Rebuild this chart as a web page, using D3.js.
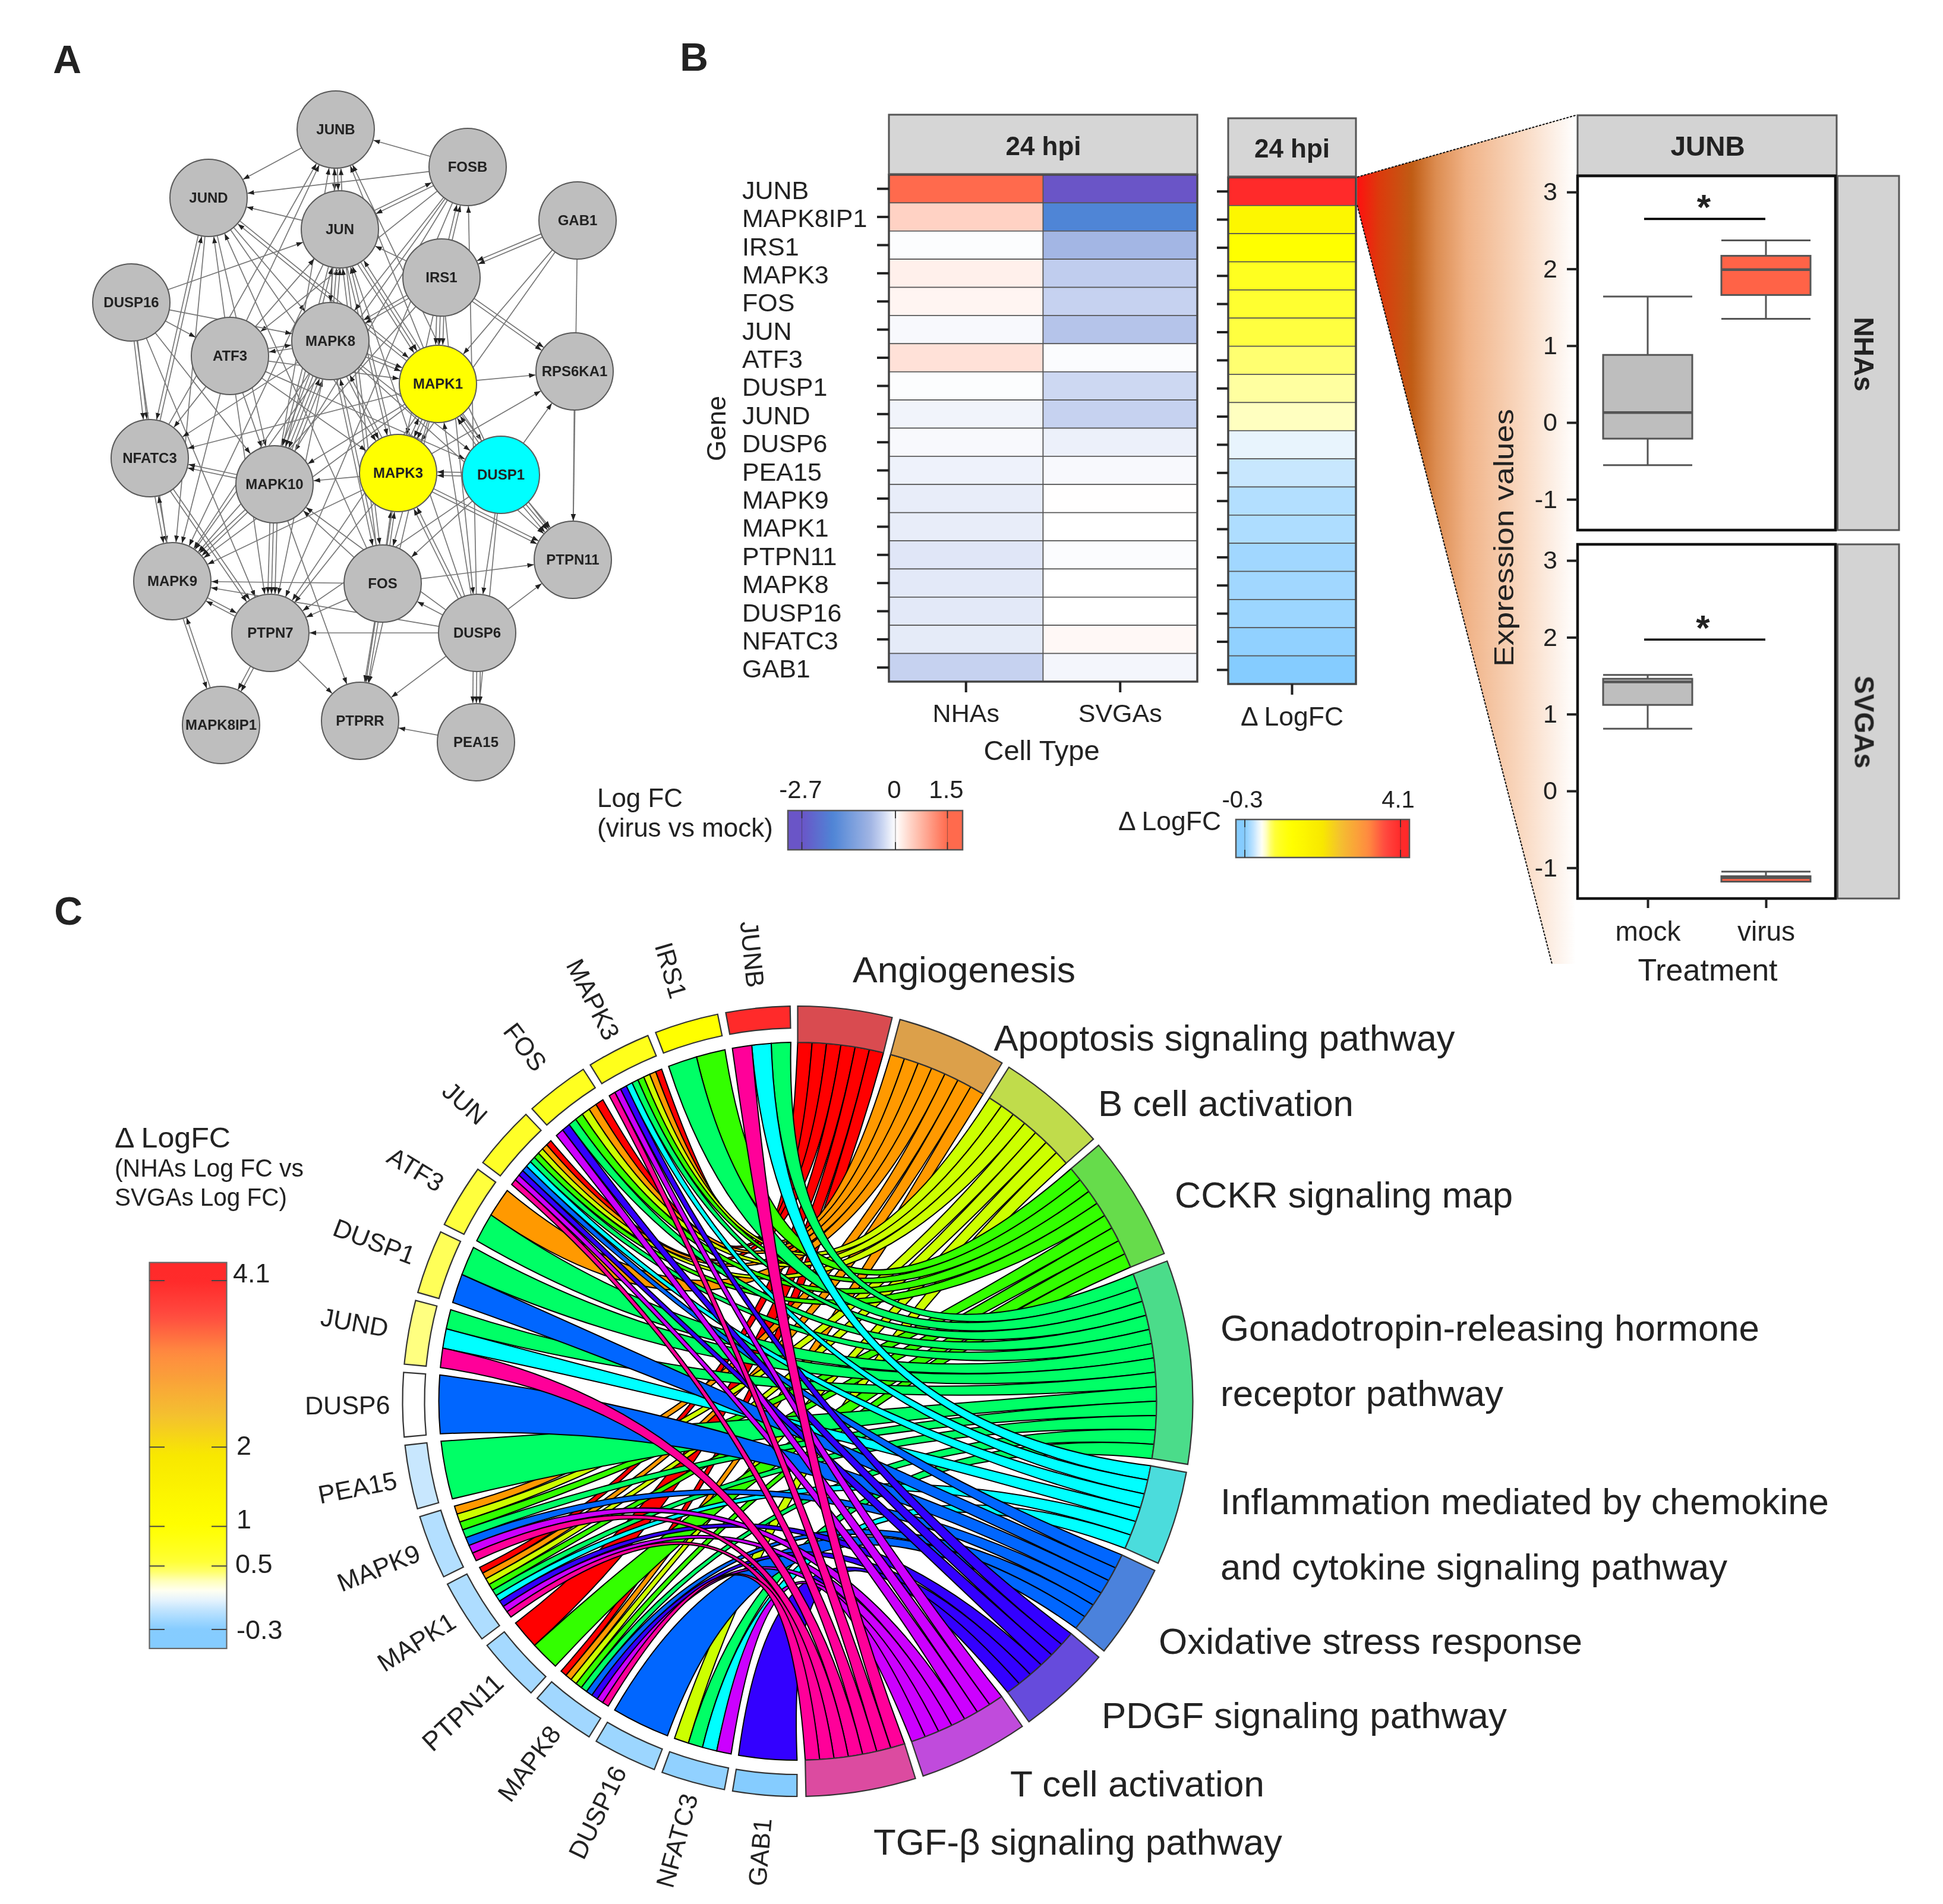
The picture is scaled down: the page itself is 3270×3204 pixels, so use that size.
<!DOCTYPE html>
<html><head><meta charset="utf-8"><title>Figure</title>
<script src="https://cdn.jsdelivr.net/npm/d3@7/dist/d3.min.js"></script>
<style>html,body{margin:0;padding:0;background:#fff}svg{display:block;filter:blur(.7px)}text{font-family:"Liberation Sans",Arial,sans-serif;fill:#222}</style>
</head><body><svg id="fig" width="3270" height="3204"></svg>
<script>
// ---------- Panel A data ----------
const netNames=["JUNB","FOSB","JUND","JUN","GAB1","IRS1","DUSP16","ATF3","MAPK8","RPS6KA1","MAPK1","NFATC3","MAPK10","MAPK3","DUSP1","PTPN11","MAPK9","FOS","PTPN7","DUSP6","PTPRR","MAPK8IP1","PEA15"];
const netLayoutX=[56.5,78.7,35.1,57.2,97.2,74.3,22.1,38.7,55.6,96.7,73.7,25.2,46.2,67,84.3,96.4,29,64.4,45.5,80.3,60.6,37.2,80.1];
const netLayoutY=[21.8,28.1,33.3,38.6,37.1,46.7,50.9,59.9,57.4,62.5,64.6,77.1,81.5,79.6,79.9,94.2,97.8,98.2,106.5,106.5,121.3,122,124.9];
const netHighlight={MAPK1:"#ffff00",MAPK3:"#ffff00",DUSP1:"#00ffff"};
const netEdges=[["FOSB","JUNB"],["FOSB","JUND"],["JUNB","JUND"],["JUN","JUND"],["FOSB","JUN"],["JUN","FOSB"],["JUNB","JUN"],["JUNB","JUN"],["JUN","JUNB"],
["ATF3","JUNB"],["MAPK10","JUNB"],["MAPK8","JUNB"],["MAPK1","JUNB"],["DUSP1","JUNB"],["NFATC3","JUNB"],["ATF3","JUND"],["NFATC3","JUND"],["JUND","NFATC3"],["JUND","MAPK9"],["JUND","MAPK10"],["JUND","MAPK8"],["JUND","MAPK1"],["JUND","MAPK3"],["FOS","JUND"],["MAPK1","JUND"],
["MAPK8","JUN"],["MAPK8","JUN"],["JUN","MAPK8"],["ATF3","JUN"],["MAPK10","JUN"],["FOS","JUN"],["MAPK3","JUN"],["MAPK1","JUN"],["JUN","MAPK1"],["JUN","MAPK1"],["JUN","MAPK3"],["JUN","MAPK10"],["JUN","MAPK9"],["JUN","FOS"],
["FOSB","MAPK8"],["FOSB","MAPK10"],["FOSB","ATF3"],["FOSB","PTPN7"],["IRS1","FOSB"],["IRS1","FOSB"],["DUSP6","FOSB"],["FOSB","MAPK9"],
["DUSP16","JUN"],["DUSP16","ATF3"],["DUSP16","MAPK8"],["DUSP16","NFATC3"],["DUSP16","NFATC3"],["DUSP16","MAPK9"],["DUSP16","PTPN7"],["DUSP16","MAPK10"],
["GAB1","IRS1"],["GAB1","IRS1"],["GAB1","PTPN11"],["GAB1","MAPK1"],["GAB1","MAPK3"],["IRS1","RPS6KA1"],["IRS1","RPS6KA1"],["IRS1","MAPK1"],["IRS1","MAPK1"],["IRS1","MAPK1"],["IRS1","JUN"],["IRS1","MAPK8"],["IRS1","MAPK8"],["IRS1","MAPK3"],["IRS1","DUSP6"],["IRS1","MAPK9"],
["ATF3","MAPK8"],["MAPK8","ATF3"],["ATF3","NFATC3"],["ATF3","MAPK9"],["ATF3","MAPK10"],["ATF3","PTPN7"],["ATF3","MAPK3"],["ATF3","MAPK1"],["ATF3","DUSP1"],
["MAPK8","MAPK1"],["MAPK8","MAPK1"],["MAPK8","MAPK3"],["MAPK8","DUSP1"],["MAPK8","MAPK10"],["MAPK8","MAPK10"],["MAPK8","MAPK10"],["MAPK10","MAPK8"],["MAPK10","MAPK8"],["MAPK8","MAPK9"],["MAPK8","NFATC3"],["MAPK8","PTPN7"],["MAPK8","FOS"],["FOS","MAPK8"],["MAPK3","MAPK8"],["MAPK8","PTPN11"],
["MAPK1","RPS6KA1"],["MAPK1","MAPK3"],["MAPK1","MAPK3"],["MAPK3","MAPK1"],["DUSP1","MAPK1"],["DUSP1","MAPK1"],["MAPK1","MAPK10"],["MAPK1","MAPK9"],["MAPK1","NFATC3"],["MAPK1","FOS"],["MAPK1","PTPN7"],["MAPK1","PTPN11"],["MAPK1","DUSP1"],["MAPK1","PTPRR"],
["DUSP1","MAPK3"],["DUSP1","MAPK3"],["DUSP1","PTPN11"],["DUSP1","PTPN11"],["DUSP1","PTPN11"],["DUSP1","RPS6KA1"],["DUSP1","DUSP6"],["DUSP1","FOS"],["DUSP1","PTPN7"],["DUSP1","PEA15"],
["MAPK3","RPS6KA1"],["MAPK3","MAPK10"],["MAPK3","PTPN11"],["MAPK3","PTPN11"],["MAPK3","MAPK9"],["MAPK3","PTPN7"],["FOS","MAPK3"],["FOS","MAPK3"],["DUSP6","MAPK3"],["DUSP6","MAPK3"],["MAPK3","PTPRR"],
["MAPK10","NFATC3"],["MAPK10","NFATC3"],["MAPK10","MAPK9"],["MAPK10","MAPK9"],["MAPK10","PTPN7"],["MAPK10","PTPN7"],["MAPK10","PTPN7"],["MAPK10","PTPRR"],["FOS","MAPK10"],["DUSP6","MAPK10"],
["NFATC3","MAPK9"],["MAPK9","NFATC3"],["NFATC3","PTPN7"],["NFATC3","PTPN7"],["MAPK9","PTPN7"],["PTPN7","MAPK9"],["MAPK9","MAPK8IP1"],["MAPK8IP1","MAPK9"],
["FOS","MAPK9"],["FOS","PTPN7"],["DUSP6","FOS"],["DUSP6","PTPN7"],["DUSP6","PTPRR"],["DUSP6","PTPN11"],["DUSP6","PEA15"],["DUSP6","PEA15"],["DUSP6","PEA15"],["DUSP6","MAPK9"],["DUSP6","JUN"],["DUSP6","MAPK1"],["FOS","PTPN11"],["FOS","PTPRR"],["FOS","PTPRR"],["PTPN7","PTPRR"],["PTPN7","MAPK8IP1"],["PTPN7","MAPK8IP1"],["PEA15","PTPRR"],["RPS6KA1","PTPN11"]];

// ---------- Panel B data ----------
const heatGenes=["JUNB","MAPK8IP1","IRS1","MAPK3","FOS","JUN","ATF3","DUSP1","JUND","DUSP6","PEA15","MAPK9","MAPK1","PTPN11","MAPK8","DUSP16","NFATC3","GAB1"];
const cellTypes=["NHAs","SVGAs"];
const logFcNHAs=[1.5,0.45,-0.02,0.15,0.1,-0.05,0.3,-0.02,-0.1,-0.05,-0.12,-0.16,-0.16,-0.22,-0.2,-0.2,-0.18,-0.4];
const logFcSVGAs=[-2.7,-1.8,-0.7,-0.45,-0.4,-0.55,-0.03,-0.35,-0.4,-0.13,-0.05,0.01,0,-0.03,0,0,0.07,-0.08];
const deltaLogFc=[4.1,1.3,1.0,0.7,0.6,0.5,0.42,0.36,0.3,0.08,-0.03,-0.1,-0.12,-0.18,-0.18,-0.2,-0.25,-0.3];
const logFcStops=[-2.7,-1.8,-0.7,-0.4,0,0.45,1.5];
const logFcColors=["#6a55c7","#4f85d6","#a3b6e4","#c6d2f0","#ffffff","#ffd2c4","#ff6a4d"];
const deltaStops=[-0.3,-0.1,0.08,0.16,0.3,0.36,0.42,0.5,0.7,1.0,1.9,2.4,3.2,3.66,4.1];
const deltaColors=["#85ccff","#b3dfff","#e8f4fd","#ffffff","#ffffc0","#ffffa0","#ffff70","#ffff40","#ffff20","#ffff00","#f8e800","#f4c030","#ff8a40","#ff4a40","#ff2a2a"];
const logFcTicks=[-2.7,0,1.5];
const deltaTicksSmall=[-0.3,4.1];
const deltaTicksBig=[4.1,2,1,0.5,-0.3];

// Boxplot statistics: [low whisker, Q1, median, Q3, high whisker]
const treatments=["mock","virus"];
const boxNHAs=[[-0.555,-0.21,0.13,0.88,1.64],[1.35,1.66,1.99,2.17,2.37]];
const boxSVGAs=[[0.81,1.12,1.42,1.46,1.51],[-1.18,-1.18,-1.13,-1.11,-1.05]];
const boxColors=["#bebebe","#ff6347"];
const exprTicks=[-1,0,1,2,3];
const sigLevels=[2.65,1.97];

// ---------- Panel C data ----------
const chordGenes=["JUNB","IRS1","MAPK3","FOS","JUN","ATF3","DUSP1","JUND","DUSP6","PEA15","MAPK9","MAPK1","PTPN11","MAPK8","DUSP16","NFATC3","GAB1"];
const chordDelta=[4.1,1.0,0.75,0.7,0.65,0.52,0.46,0.4,0.16,-0.03,-0.1,-0.12,-0.16,-0.18,-0.2,-0.25,-0.3];
const termColors=["#FF0000","#FF9900","#CCFF00","#33FF00","#00FF66","#00FFFF","#0066FF","#3300FF","#CC00FF","#FF0099"];
const termRingColors=["#d94b50","#dca04a","#c0dc4b","#66dc4b","#4bdc8a","#4bdcdc","#4b82dc","#664bdc","#c04bdc","#dc4ba0"];
const geneTerms=[[4,5,9],[3,4],[0,1,2,3,4,5,7,8,9],[0,1,2,3,4,7,8],[0,1,2,3,4,5,6,7,8,9],[1,4],[4,6],[4,5,9],[6],[4],[1,2,3,4,6,8,9],[0,1,2,3,4,5,7,8,9],[0,3],[0,1,2,3,4,6,7,8,9],[6],[2,4,5,8],[7]];
const termLabels=[["Angiogenesis"],["Apoptosis signaling pathway"],["B cell activation"],["CCKR signaling map"],["Gonadotropin-releasing hormone","receptor pathway"],["Inflammation mediated by chemokine","and cytokine signaling pathway"],["Oxidative stress response"],["PDGF signaling pathway"],["T cell activation"],["TGF-β signaling pathway"]];

// ---------- helpers ----------
const svg=d3.select("#fig");
function txt(g,x,y,s,o={}){
  const t=g.append("text").attr("x",x).attr("y",y).attr("dy",o.dy||".35em").attr("font-size",o.size||42)
    .attr("text-anchor",o.anchor||"middle").attr("font-weight",o.weight||"normal").text(s);
  if(o.rot!==undefined)t.attr("transform",`rotate(${o.rot} ${x} ${y})`);
  if(o.len)t.attr("textLength",o.len).attr("lengthAdjust","spacingAndGlyphs");
  return t;
}
const logFcColor=d3.scaleLinear().domain(logFcStops).range(logFcColors).clamp(true);
const deltaColor=d3.scaleLinear().domain(deltaStops).range(deltaColors).clamp(true);
const defs=svg.append("defs");
function gradient(id,stops,col,vert,lo,hi){
  const g=defs.append("linearGradient").attr("id",id).attr("x1",0).attr("y1",vert?1:0).attr("x2",vert?0:1).attr("y2",0);
  d3.range(0,41).forEach(i=>{const v=lo+(hi-lo)*i/40;g.append("stop").attr("offset",i/40).attr("stop-color",col(v));});
}
function styleAxis(g){g.select(".domain").remove();g.selectAll(".tick line").attr("stroke","#222").attr("stroke-width",4);}

// panel letters
[["A",113,100],["B",1168,96],["C",115,1533]].forEach(d=>txt(svg,d[1],d[2],d[0],{size:66,weight:"bold"}));

// ---------- Panel A ----------
(function(){
  const g=svg.append("g");
  const sx=d3.scaleLinear().domain([0,100]).range([0,1000]),sy=d3.scaleLinear().domain([0,100]).range([0,1000]);
  const rNode=sx(6.5);
  const nodes=netNames.map((n,i)=>({n,x:sx(netLayoutX[i]),y:sy(netLayoutY[i])}));
  const byName=Object.fromEntries(nodes.map(d=>[d.n,d]));
  defs.append("marker").attr("id","arrow").attr("markerUnits","userSpaceOnUse").attr("markerWidth",12).attr("markerHeight",10)
    .attr("refX",11).attr("refY",4).attr("orient","auto").append("path").attr("d","M0,0L11,4L0,8Z").attr("fill","#222");
  const groups=d3.group(netEdges,e=>[e[0],e[1]].sort().join("|"));
  groups.forEach(list=>{
    list.forEach((e,i)=>{
      const a=byName[e[0]],b=byName[e[1]];
      const dx=b.x-a.x,dy=b.y-a.y,L=Math.hypot(dx,dy),ux=dx/L,uy=dy/L;
      const sign=e[0]<e[1]?1:-1;
      const off=(i-(list.length-1)/2)*6*sign;
      const px=-uy*off,py=ux*off;
      g.append("line").attr("x1",a.x+ux*rNode+px).attr("y1",a.y+uy*rNode+py)
       .attr("x2",b.x-ux*(rNode+1)+px).attr("y2",b.y-uy*(rNode+1)+py)
       .attr("stroke","#777").attr("stroke-width",1.7).attr("marker-end","url(#arrow)");
    });
  });
  g.selectAll("circle").data(nodes).join("circle").attr("cx",d=>d.x).attr("cy",d=>d.y).attr("r",rNode)
    .attr("fill",d=>netHighlight[d.n]||"#bebebe").attr("stroke","#5a5a5a").attr("stroke-width",2);
  nodes.forEach(d=>txt(g,d.x,d.y,d.n,{size:24,weight:"bold"}));
})();

// ---------- Wedge (behind panel) ----------
(function(){
  const wy=[298,345];
  const wedge=defs.append("linearGradient").attr("id","wedge").attr("gradientUnits","userSpaceOnUse").attr("x1",2284).attr("x2",2652).attr("y1",0).attr("y2",0);
  [[0,"#ff1010"],[.1,"#dc3a0c"],[.25,"#c05c14"],[.36,"#dc8c50"],[.5,"#f0b286"],[.75,"#f9d8c0"],[1,"#ffffff"]].forEach(s=>wedge.append("stop").attr("offset",s[0]).attr("stop-color",s[1]));
  svg.append("path").attr("d",d3.line()([[2284,wy[0]],[2652,194],[2652,1622],[2612,1622],[2284,wy[1]]])+"Z").attr("fill","url(#wedge)");
  svg.append("path").attr("d",d3.line()([[2284,wy[0]],[2652,194]])).attr("fill","none").attr("stroke","#111").attr("stroke-width",2).attr("stroke-dasharray","4,2");
  svg.append("path").attr("d",d3.line()([[2284,wy[1]],[2612,1622]])).attr("fill","none").attr("stroke","#111").attr("stroke-width",2).attr("stroke-dasharray","4,2");
})();

// ---------- Panel B heatmaps ----------
(function(){
  const g=svg.append("g");
  const x=d3.scaleBand().domain(cellTypes).range([1496,2015]);
  const y=d3.scaleBand().domain(heatGenes).range([294,1147]);
  const cells=[];heatGenes.forEach((n,i)=>{cells.push({g:n,c:"NHAs",v:logFcNHAs[i]});cells.push({g:n,c:"SVGAs",v:logFcSVGAs[i]});});
  g.selectAll(".c1").data(cells).join("rect").attr("x",d=>x(d.c)).attr("y",d=>y(d.g)).attr("width",x.bandwidth()).attr("height",y.bandwidth())
   .attr("fill",d=>logFcColor(d.v)).attr("stroke","#555").attr("stroke-width",1.6);
  g.append("rect").attr("x",1496).attr("y",294).attr("width",519).attr("height",853).attr("fill","none").attr("stroke","#444").attr("stroke-width",3.5);
  g.append("rect").attr("x",1496).attr("y",193).attr("width",519).attr("height",100).attr("fill","#d6d6d6").attr("stroke","#555").attr("stroke-width",3);
  txt(g,1756,246,"24 hpi",{size:44,weight:"bold"});
  const ax=g.append("g").attr("transform","translate(1496,0)").call(d3.axisLeft(y).tickSize(20).tickPadding(0));
  styleAxis(ax);
  ax.selectAll(".tick text").attr("font-size",43).attr("font-family",null).attr("text-anchor","start").attr("x",-247).attr("y",2).attr("dy",".35em").attr("fill","#222");
  const bx=g.append("g").attr("transform","translate(0,1147)").call(d3.axisBottom(x).tickSize(18).tickPadding(0));
  styleAxis(bx);
  bx.selectAll(".tick text").attr("font-size",43).attr("y",53).attr("dy",".35em");
  txt(g,1205,721,"Gene",{size:45,rot:-90});
  txt(g,1753,1263,"Cell Type",{size:47});

  const y2=d3.scaleBand().domain(heatGenes).range([298.5,1151]);
  const dcol=["Δ LogFC"];
  const x2=d3.scaleBand().domain(dcol).range([2067,2282]);
  g.selectAll(".c2").data(heatGenes).join("rect").attr("x",2067).attr("y",d=>y2(d)).attr("width",x2.bandwidth()).attr("height",y2.bandwidth())
   .attr("fill",(d,i)=>deltaColor(deltaLogFc[i])).attr("stroke","#555").attr("stroke-width",1.6);
  g.append("rect").attr("x",2067).attr("y",298.5).attr("width",215).attr("height",852.5).attr("fill","none").attr("stroke","#444").attr("stroke-width",3.5);
  g.append("rect").attr("x",2067).attr("y",199).attr("width",215).attr("height",98).attr("fill","#d6d6d6").attr("stroke","#555").attr("stroke-width",3);
  txt(g,2174.5,250,"24 hpi",{size:44,weight:"bold"});
  const ax2=g.append("g").attr("transform","translate(2067,0)").call(d3.axisLeft(y2).tickSize(19).tickFormat(""));
  styleAxis(ax2);
  const bx2=g.append("g").attr("transform","translate(0,1151)").call(d3.axisBottom(x2).tickSize(18).tickPadding(0));
  styleAxis(bx2);
  bx2.selectAll(".tick text").attr("font-size",44.5).attr("y",54).attr("dy",".35em");

  // legends
  const lx=d3.scaleLinear().domain([-2.7,1.5]).range([1349.5,1594.5]);
  const lo=lx.invert(1326),hi=lx.invert(1620);
  gradient("gLog",null,logFcColor,false,lo,hi);
  g.append("rect").attr("x",1326).attr("y",1364).attr("width",294).attr("height",66).attr("fill","url(#gLog)").attr("stroke","#555").attr("stroke-width",2.5);
  logFcTicks.forEach(v=>{g.append("line").attr("x1",lx(v)).attr("x2",lx(v)).attr("y1",1364).attr("y2",1430).attr("stroke","#333").attr("stroke-width",1.2).attr("stroke-opacity",.45);
    [[1364,1377],[1417,1430]].forEach(e=>g.append("line").attr("x1",lx(v)).attr("x2",lx(v)).attr("y1",e[0]).attr("y2",e[1]).attr("stroke","#333").attr("stroke-width",1.8));
    txt(g,lx(v)-2,1328,String(v),{size:42});});
  txt(g,1005,1343,"Log FC",{size:44,anchor:"start",len:144});
  txt(g,1005,1393,"(virus vs mock)",{size:44,anchor:"start",len:296});
  const dx=d3.scaleLinear().domain([-0.3,4.1]).range([2095,2357]);
  gradient("gDelta",null,deltaColor,false,dx.invert(2080),dx.invert(2372));
  g.append("rect").attr("x",2080).attr("y",1379).attr("width",292).attr("height",64).attr("fill","url(#gDelta)").attr("stroke","#555").attr("stroke-width",2.5);
  deltaTicksSmall.forEach(v=>{g.append("line").attr("x1",dx(v)).attr("x2",dx(v)).attr("y1",1379).attr("y2",1443).attr("stroke","#333").attr("stroke-width",1.2).attr("stroke-opacity",.45);
    [[1379,1392],[1430,1443]].forEach(e=>g.append("line").attr("x1",dx(v)).attr("x2",dx(v)).attr("y1",e[0]).attr("y2",e[1]).attr("stroke","#333").attr("stroke-width",1.8));
    txt(g,dx(v)-4,1345,String(v),{size:40});});
  txt(g,1882,1382,"Δ LogFC",{size:44,anchor:"start",len:173});
})();

// ---------- Panel B boxplots ----------
(function(){
  const g=svg.append("g");
  const xL=2655,xR=3089;
  const xs=d3.scalePoint().domain(treatments).range([2773,2972]);
  const boxW=150;
  function panel(top,bot,stats,level,starX,label,labY,isBottom){
    const y=d3.scaleLinear().domain([-1.40,3.21]).range([bot,top]);
    g.append("rect").attr("x",xL).attr("y",top).attr("width",xR-xL).attr("height",bot-top).attr("fill","#fff");
    treatments.forEach((t,i)=>{
      const s=stats[i],cx=xs(t);
      const c=g.append("g").attr("stroke","#555").attr("stroke-width",3);
      c.append("line").attr("x1",cx).attr("x2",cx).attr("y1",y(s[0])).attr("y2",y(s[1]));
      c.append("line").attr("x1",cx).attr("x2",cx).attr("y1",y(s[3])).attr("y2",y(s[4]));
      [s[0],s[4]].forEach(v=>c.append("line").attr("x1",cx-boxW/2).attr("x2",cx+boxW/2).attr("y1",y(v)).attr("y2",y(v)));
      c.append("rect").attr("x",cx-boxW/2).attr("width",boxW).attr("y",y(s[3])).attr("height",Math.max(1,y(s[1])-y(s[3]))).attr("fill",boxColors[i]);
      c.append("line").attr("x1",cx-boxW/2).attr("x2",cx+boxW/2).attr("y1",y(s[2])).attr("y2",y(s[2])).attr("stroke-width",4.5);
    });
    g.append("line").attr("x1",2767).attr("x2",2971).attr("y1",y(level)).attr("y2",y(level)).attr("stroke","#000").attr("stroke-width",3.6);
    txt(g,starX,y(level)+1,"*",{size:60,weight:"bold",dy:"0"});
    g.append("rect").attr("x",xL).attr("y",top).attr("width",xR-xL).attr("height",bot-top).attr("fill","none").attr("stroke","#111").attr("stroke-width",4.5);
    const ax=g.append("g").attr("transform",`translate(${xL},0)`).call(d3.axisLeft(y).tickValues(exprTicks).tickSize(18).tickPadding(16).tickFormat(v=>String(v)));
    styleAxis(ax);
    ax.selectAll(".tick text").attr("font-size",43).attr("font-family",null).attr("fill","#222");
    g.append("rect").attr("x",3092.5).attr("y",top).attr("width",103.5).attr("height",bot-top).attr("fill","#d3d3d3").attr("stroke","#555").attr("stroke-width",3);
    txt(g,3137.5,labY,label,{size:46,weight:"bold",rot:90});
    if(isBottom){
      const bx=g.append("g").attr("transform",`translate(0,${bot})`).call(d3.axisBottom(xs).tickSize(16).tickPadding(0));
      styleAxis(bx);
      bx.selectAll(".tick text").attr("font-size",46).attr("y",55).attr("dy",".35em");
    }
  }
  g.append("rect").attr("x",2655).attr("y",194).attr("width",436).attr("height",101).attr("fill","#d3d3d3").attr("stroke","#555").attr("stroke-width",3);
  txt(g,2874,246,"JUNB",{size:46,weight:"bold"});
  panel(296,892,boxNHAs,sigLevels[0],2867.5,"NHAs",596,false);
  panel(916,1512,boxSVGAs,sigLevels[1],2866,"SVGAs",1215,true);
  txt(g,2531,905,"Expression values",{size:46,rot:-90,len:434});
  txt(g,2874,1632,"Treatment",{size:52});
})();

// ---------- Panel C chord ----------
(function(){
  const g=svg.append("g").attr("transform","translate(1342.5,2358)");
  const R=665,Rt=604,Rg=628,Rr=604;
  const ctrl=[-25,30];
  const deg=Math.PI/180;
  // term arcs: width proportional to the number of member genes
  const termCount=termColors.map((c,t)=>d3.sum(geneTerms,l=>l.includes(t)?1:0));
  const gapT=1.17,unit=(178.8-gapT*(termColors.length-1))/d3.sum(termCount);
  const termAngle=d3.scaleLinear().domain([0,d3.sum(termCount)]).range([0,unit*d3.sum(termCount)]);
  let acc=0;
  const terms=termColors.map((c,t)=>{const s=termAngle(acc)+t*gapT;acc+=termCount[t];const e=termAngle(acc)+t*gapT;return{t,s,e};});
  // gene arcs: equal widths
  const gapG=1.2,geneW=(358.9-180.1-gapG*(chordGenes.length-1))/chordGenes.length;
  const genes=chordGenes.map((n,i)=>{const e=358.9-i*(geneW+gapG);return{n,i,s:e-geneW,e};});
  const termUsed=termColors.map(()=>0);
  const ribbons=[];
  genes.forEach(gn=>{
    const list=geneTerms[gn.i],w=geneW/list.length;
    list.forEach((t,k)=>{
      const a1=gn.e-k*w,a0=a1-w;
      const tw=(terms[t].e-terms[t].s)/termCount[t];
      const b0=terms[t].s+termUsed[t]*tw,b1=b0+tw;
      termUsed[t]++;
      ribbons.push({t,a0,a1,b0,b1});
    });
  });
  const pt=(r,a)=>[r*Math.sin(a*deg),-r*Math.cos(a*deg)];
  function ribbonPath(d){
    const p=d3.path();
    const A0=pt(Rr,d.a0),B0=pt(Rr,d.b0),B1=pt(Rr,d.b1);
    p.moveTo(A0[0],A0[1]);
    p.arc(0,0,Rr,(d.a0-90)*deg,(d.a1-90)*deg,false);
    p.quadraticCurveTo(ctrl[0],ctrl[1],B0[0],B0[1]);
    p.arc(0,0,Rr,(d.b0-90)*deg,(d.b1-90)*deg,false);
    p.quadraticCurveTo(ctrl[0],ctrl[1],A0[0],A0[1]);
    p.closePath();
    return p.toString();
  }
  const order=d3.range(termColors.length);
  order.forEach(t=>{
    g.append("g").selectAll("path").data(ribbons.filter(r=>r.t===t)).join("path").attr("d",ribbonPath)
     .attr("fill",termColors[t]).attr("stroke","#000").attr("stroke-width",2);
  });
  const arcT=d3.arc().innerRadius(Rt).outerRadius(R).startAngle(d=>d.s*deg).endAngle(d=>d.e*deg);
  g.selectAll(".term").data(terms).join("path").attr("d",arcT).attr("fill",d=>termRingColors[d.t]).attr("stroke","#333").attr("stroke-width",2.2);
  const arcG=d3.arc().innerRadius(Rg).outerRadius(R).startAngle(d=>d.s*deg).endAngle(d=>d.e*deg);
  g.selectAll(".gene").data(genes).join("path").attr("d",arcG).attr("fill",d=>deltaColor(chordDelta[d.i])).attr("stroke","#333").attr("stroke-width",2.2);
  const labelOut=[14,22,0,22,24,15,4,14,0,2,0,0,0,0,0,0,18];
  genes.forEach(d=>{
    const m=(d.s+d.e)/2,p=pt(686+labelOut[d.i],m);
    txt(g,p[0],p[1],d.n,{size:d.n==="PTPN11"?45:43,anchor:"end",rot:m-270});
  });
  // term labels (x, y measured from text start)
  const L=svg.append("g");
  const labelPlace=[[1435,1631,375],[1672.6,1746,776],[1848,1856,430],[1977,2010,569],[2054,2234,907],[2054,2344,476],[2054,2526,1024],[2054,2636,853],[1950,2761,713],[1854,2886,682],[1700,3001,428],[1470,3099,688]];
  termLabels.flat().forEach((s,i)=>{const q=labelPlace[i];txt(L,q[0],q[1],s,{size:62,anchor:"start",len:q[2]});});

  // big legend
  const bar=svg.append("g");
  const y=d3.scaleLinear().domain([-0.3,4.1]).range([2742,2155]);
  gradient("gBig",null,deltaColor,true,y.invert(2774),y.invert(2124.5));
  bar.append("rect").attr("x",251.5).attr("y",2124.5).attr("width",130).attr("height",649.5).attr("fill","url(#gBig)").attr("stroke","#666").attr("stroke-width",2.2);
  deltaTicksBig.forEach(v=>{
    [[251.5,277],[356,381.5]].forEach(s=>bar.append("line").attr("x1",s[0]).attr("x2",s[1]).attr("y1",y(v)).attr("y2",y(v)).attr("stroke","#444").attr("stroke-width",2));
    txt(bar,v===4.1?392:(v===0.5?396:398),y(v)+(v===4.1?-13:(v===2?-3:(v===1?-12:(v===0.5?-4:0)))),String(v),{size:45,anchor:"start"});
  });
  txt(bar,193,1914,"Δ LogFC",{size:48,anchor:"start",len:195});
  txt(bar,193,1965,"(NHAs Log FC vs",{size:42,anchor:"start",len:318});
  txt(bar,193,2014,"SVGAs Log FC)",{size:42,anchor:"start",len:290});
})();
</script></body></html>
